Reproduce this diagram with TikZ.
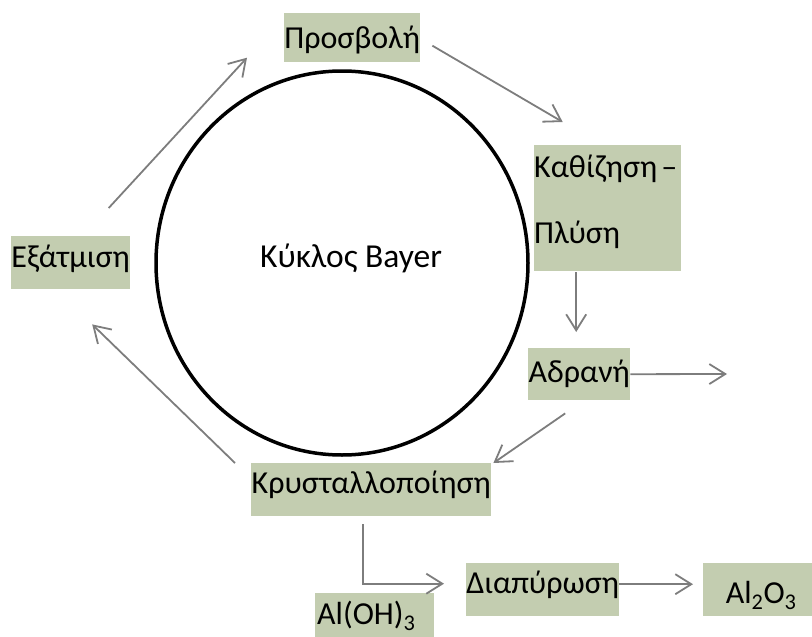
\documentclass[tikz,border=0pt]{standalone}
\usepackage{fontspec}
\setmainfont{Carlito}
\usepackage{xcolor}
\usepackage{tikz}
\usetikzlibrary{arrows.meta}

\definecolor{boxgreen}{RGB}{195,205,176}
\definecolor{linegray}{RGB}{125,125,125}

\begin{document}
\begin{tikzpicture}[x=1pt, y=-1pt,
  proc/.style={fill=boxgreen, inner sep=0pt, anchor=north west, font=\fontsize{32}{40}\selectfont},
  flow/.style={draw=linegray, line width=1.8pt, -{Straight Barb[length=16pt,width=20pt]}}]
 \useasboundingbox (0,0) rectangle (812,637);
 \draw [line width=3.5pt] (342,263) ellipse [x radius=186pt, y radius=192pt];
 \node (bayer) at (351,258) [font=\fontsize{33.5}{40}\selectfont] {Κύκλος Bayer};

 \node (prosv) at (284,13) [proc, minimum width=136pt, text height=35pt, text depth=14pt] {Προσβολή};
 \node (kath) at (534,145) [proc, text width=147pt, align=left, text height=32pt, text depth=94pt] {\mbox{Καθίζηση\hspace{4pt}–}\\[26pt]Πλύση};
 \node (adr) at (528,348) [proc, minimum width=102pt, text height=34pt, text depth=18pt] {Αδρανή};
 \node (kryst) at (251,463) [proc, minimum width=240pt, text height=30pt, text depth=23pt] {Κρυσταλλοποίηση};
 \node (exat) at (11,236) [proc, minimum width=119pt, text height=31pt, text depth=22pt] {Εξάτμιση};
 \node (aloh) at (315,593) [proc, text width=119pt, align=left, text height=31pt, text depth=16pt] {\hspace{2pt}Al(OH)\textsubscript{3}};
 \node (diap) at (466,563) [proc, minimum width=153pt, text height=30pt, text depth=23pt] {Διαπύρωση};
 \node (alox) at (703,563) [proc, minimum width=116pt, text height=40pt, text depth=13pt] {Al\textsubscript{2}O\textsubscript{3}};
 \coordinate (out) at (727,374);

 % cycle
 \draw [flow] ([shift={(38,-28)}]exat.north) -- ([shift={(-37,20)}]prosv.west);
 \draw [flow] ([shift={(12,8)}]prosv.east) -- ([shift={(-45,-23)}]kath.north);
 \draw [flow] ([shift={(-31.5,1)}]kath.south) -- ([shift={(-3,-16)}]adr.north);
 \draw [flow] (adr.east) -- (out);
 \draw [flow] ([shift={(-14,13)}]adr.south) -- ([shift={(2,0)}]kryst.north east);
 \draw [flow] ([shift={(-16,0)}]kryst.north west) -- ([shift={(21.5,35)}]exat.south);
 % products
 \draw [flow] ([shift={(-8,8)}]kryst.south) |- ([shift={(-22,-6)}]diap.west);
 \draw [flow] ([shift={(0,-5.5)}]diap.east) -- ([shift={(-10,-5.5)}]alox.west);
\end{tikzpicture}
\end{document}
